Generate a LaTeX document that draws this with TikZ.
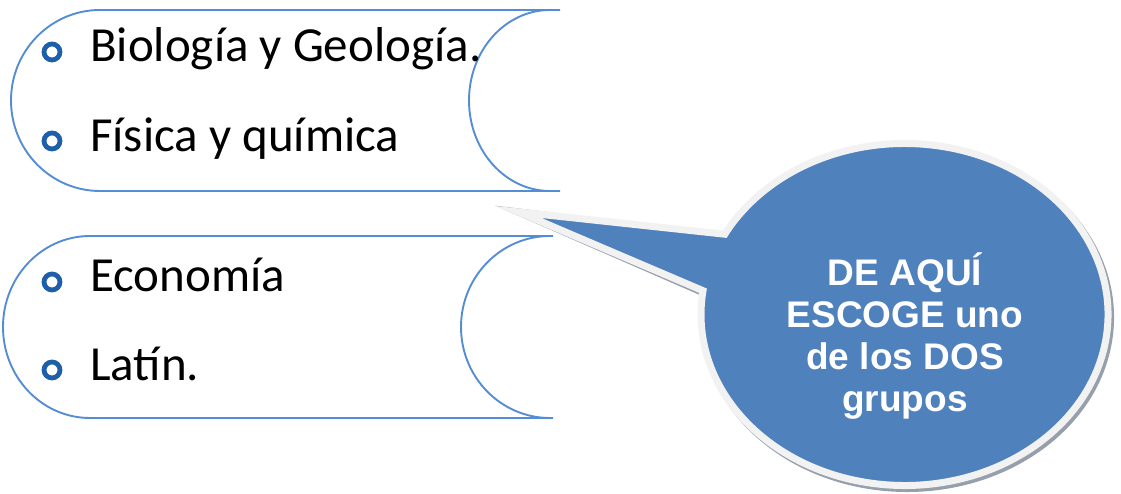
\documentclass[tikz,border=0pt]{standalone}
\usepackage{fontspec}
\newfontfamily\calib{Carlito}
\newfontfamily\arialf{Liberation Sans}
\definecolor{shapeline}{RGB}{84,141,212}
\definecolor{bulletc}{RGB}{30,95,170}
\definecolor{callblue}{RGB}{79,129,189}
\definecolor{callborder}{RGB}{242,242,242}
\definecolor{callshadow}{RGB}{150,160,172}
\begin{document}
\begin{tikzpicture}[x=1pt,y=1pt,
  outline/.style={draw=shapeline, line width=1.9pt},
  bul/.style={circle, draw=bulletc, line width=4.8pt, minimum size=16pt, inner sep=0pt},
  item/.style={anchor=base west, inner sep=0pt, font=\calib\fontsize{49}{58}\selectfont},
  callbody/.style={fill=callblue, draw=callborder, line width=7pt, line join=miter},
  callshade/.style={fill=callshadow, draw=callshadow, line width=7pt, line join=miter},
  calltxt/.style={align=center, text=white, inner sep=0pt, font=\arialf\bfseries\fontsize{37}{42}\selectfont}
]
\useasboundingbox (0,0) rectangle (1121,494);
% top group shape
\draw[outline] (560,484) -- (100,484) arc[start angle=90,end angle=270,x radius=89,y radius=90.5] -- (560,303);
\draw[outline] (550,484) arc[start angle=90,end angle=270,x radius=81,y radius=90.5];
% bottom group shape
\draw[outline] (553,258) -- (90,258) arc[start angle=90,end angle=270,x radius=87,y radius=91] -- (553,76);
\draw[outline] (550,258) arc[start angle=90,end angle=270,x radius=89,y radius=91];
% bullets and items
\node[bul] (b1) at (52,442) {};
\node[bul] (b2) at (52,353) {};
\node[bul] (b3) at (52,212) {};
\node[bul] (b4) at (52,124) {};
\node[item] (i1) at (90,432) {Biología y Geología.};
\node[item] (i2) at (90,342) {Física y química};
\node[item] (i3) at (90,202) {Economía};
\node[item] (i4) at (90,113) {Latín.};
% callout
\coordinate (tip) at (518.5,282);
\draw[callshade, shift={(2.5,-3)}] (tip) -- (703.0,203.3) arc[start angle=172,end angle=512,x radius=203.5,y radius=171] -- cycle;
\draw[callbody] (tip) -- (703.0,203.3) arc[start angle=172,end angle=512,x radius=203.5,y radius=171] -- cycle;
\node[calltxt] (ct) at (905,158) {DE AQUÍ\\ESCOGE uno\\de los DOS\\grupos};
\end{tikzpicture}
\end{document}
